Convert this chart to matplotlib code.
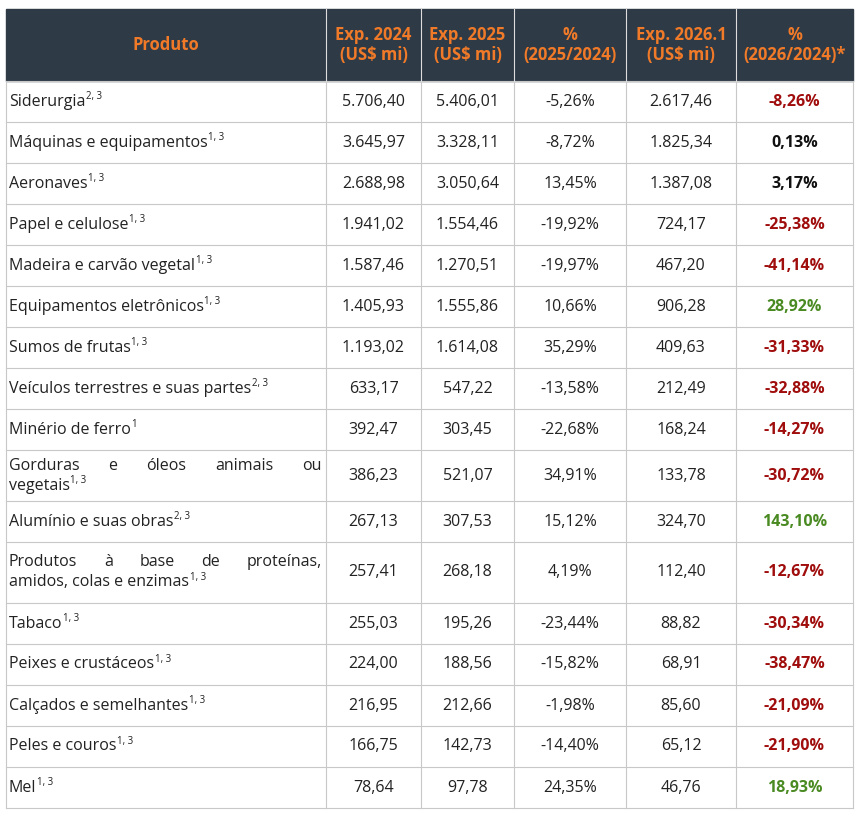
import matplotlib
matplotlib.use("Agg")
import matplotlib.pyplot as plt
from matplotlib.patches import Rectangle

produtos = ["Siderurgia", "Máquinas e equipamentos", "Aeronaves", "Papel e celulose",
            "Madeira e carvão vegetal", "Equipamentos eletrônicos", "Sumos de frutas",
            "Veículos terrestres e suas partes", "Minério de ferro",
            "Gorduras e óleos animais ou vegetais", "Alumínio e suas obras",
            "Produtos à base de proteínas, amidos, colas e enzimas", "Tabaco",
            "Peixes e crustáceos", "Calçados e semelhantes", "Peles e couros", "Mel"]
notas = ["2, 3", "1, 3", "1, 3", "1, 3", "1, 3", "1, 3", "1, 3", "2, 3", "1",
         "1, 3", "2, 3", "1, 3", "1, 3", "1, 3", "1, 3", "1, 3", "1, 3"]
linhas_nome = [None]*17
linhas_nome[9] = ["Gorduras e óleos animais ou", "vegetais"]
linhas_nome[11] = ["Produtos à base de proteínas,", "amidos, colas e enzimas"]
exp2024 = ["5.706,40", "3.645,97", "2.688,98", "1.941,02", "1.587,46", "1.405,93", "1.193,02",
           "633,17", "392,47", "386,23", "267,13", "257,41", "255,03", "224,00", "216,95", "166,75", "78,64"]
exp2025 = ["5.406,01", "3.328,11", "3.050,64", "1.554,46", "1.270,51", "1.555,86", "1.614,08",
           "547,22", "303,45", "521,07", "307,53", "268,18", "195,26", "188,56", "212,66", "142,73", "97,78"]
var2524 = ["-5,26%", "-8,72%", "13,45%", "-19,92%", "-19,97%", "10,66%", "35,29%", "-13,58%",
           "-22,68%", "34,91%", "15,12%", "4,19%", "-23,44%", "-15,82%", "-1,98%", "-14,40%", "24,35%"]
exp2026 = ["2.617,46", "1.825,34", "1.387,08", "724,17", "467,20", "906,28", "409,63", "212,49",
           "168,24", "133,78", "324,70", "112,40", "88,82", "68,91", "85,60", "65,12", "46,76"]
var2624 = ["-8,26%", "0,13%", "3,17%", "-25,38%", "-41,14%", "28,92%", "-31,33%", "-32,88%",
           "-14,27%", "-30,72%", "143,10%", "-12,67%", "-30,34%", "-38,47%", "-21,09%", "-21,90%", "18,93%"]
cabecalho = ["Produto", "Exp. 2024\n(US$ mi)", "Exp. 2025\n(US$ mi)", "%\n(2025/2024)",
             "Exp. 2026.1\n(US$ mi)", "%\n(2026/2024)*"]

FONT = "Open Sans"
FS = 11.5
cols = [6, 326, 421, 514, 626, 736, 853]
row_h = [41]*17
row_h[9] = 51
row_h[11] = 61
top = 9
head_b = 81

fig = plt.figure(figsize=(8.6, 8.17), dpi=100)
ax = fig.add_axes([0, 0, 1, 1])
ax.set_xlim(0, 860); ax.set_ylim(817, 0); ax.axis("off")
ax.add_patch(Rectangle((cols[0], top), cols[-1]-cols[0], head_b-top, color="#2F3A47", zorder=0))
orange = "#F07A28"
for i, h in enumerate(cabecalho):
    ax.text((cols[i]+cols[i+1])/2, (top+head_b)/2, h, ha="center", va="center", color=orange,
            fontsize=12, fontweight="bold", family=FONT, linespacing=1.1)

fig.canvas.draw()
r = fig.canvas.get_renderer()
def width(t):
    return t.get_window_extent(r).width

ys = [head_b]
for h in row_h:
    ys.append(ys[-1]+h)
grid = "#C8C8C8"
for y in ys:
    ax.plot([cols[0], cols[-1]], [y, y], color=grid, lw=0.8)
for x in cols:
    ax.plot([x, x], [head_b, ys[-1]], color=grid, lw=0.8)
for x in cols[1:-1]:
    ax.plot([x, x], [top, head_b], color="#DDDDDD", lw=0.8)

def sup(xend, y, s):
    ax.text(xend+0.5, y-5, s, fontsize=7, family=FONT, va="center", ha="left", color="#222222")

tx = "#222222"
for i in range(17):
    y0, y1 = ys[i], ys[i+1]
    yc = (y0+y1)/2
    if linhas_nome[i] is None:
        t = ax.text(cols[0]+3, yc, produtos[i], fontsize=FS, family=FONT, va="center", color=tx)
        sup(cols[0]+3+width(t), yc, notas[i])
    else:
        l1, l2 = linhas_nome[i]
        ya, yb = yc-10, yc+10
        words = l1.split()
        ts = [ax.text(0, ya, w, fontsize=FS, family=FONT, va="center", color=tx) for w in words]
        ws = [width(t) for t in ts]
        avail = cols[1]-4-(cols[0]+3)
        gap = (avail-sum(ws))/(len(ws)-1)
        x = cols[0]+3
        for t, w in zip(ts, ws):
            t.set_x(x); x += w+gap
        t = ax.text(cols[0]+3, yb, l2, fontsize=FS, family=FONT, va="center", color=tx)
        sup(cols[0]+3+width(t), yb, notas[i])
    for j, v in enumerate([exp2024[i], exp2025[i], var2524[i], exp2026[i]]):
        ax.text((cols[j+1]+cols[j+2])/2, yc, v, fontsize=FS, family=FONT, ha="center", va="center", color=tx)
    v = var2624[i]
    num = float(v.replace("%", "").replace(",", "."))
    c = "#A00D0D" if num < 0 else ("#4A8A22" if num > 10 else "#111111")
    ax.text((cols[5]+cols[6])/2, yc, v, fontsize=FS, family=FONT, ha="center", va="center",
            color=c, fontweight="bold")

fig.savefig("out.png", dpi=100)
